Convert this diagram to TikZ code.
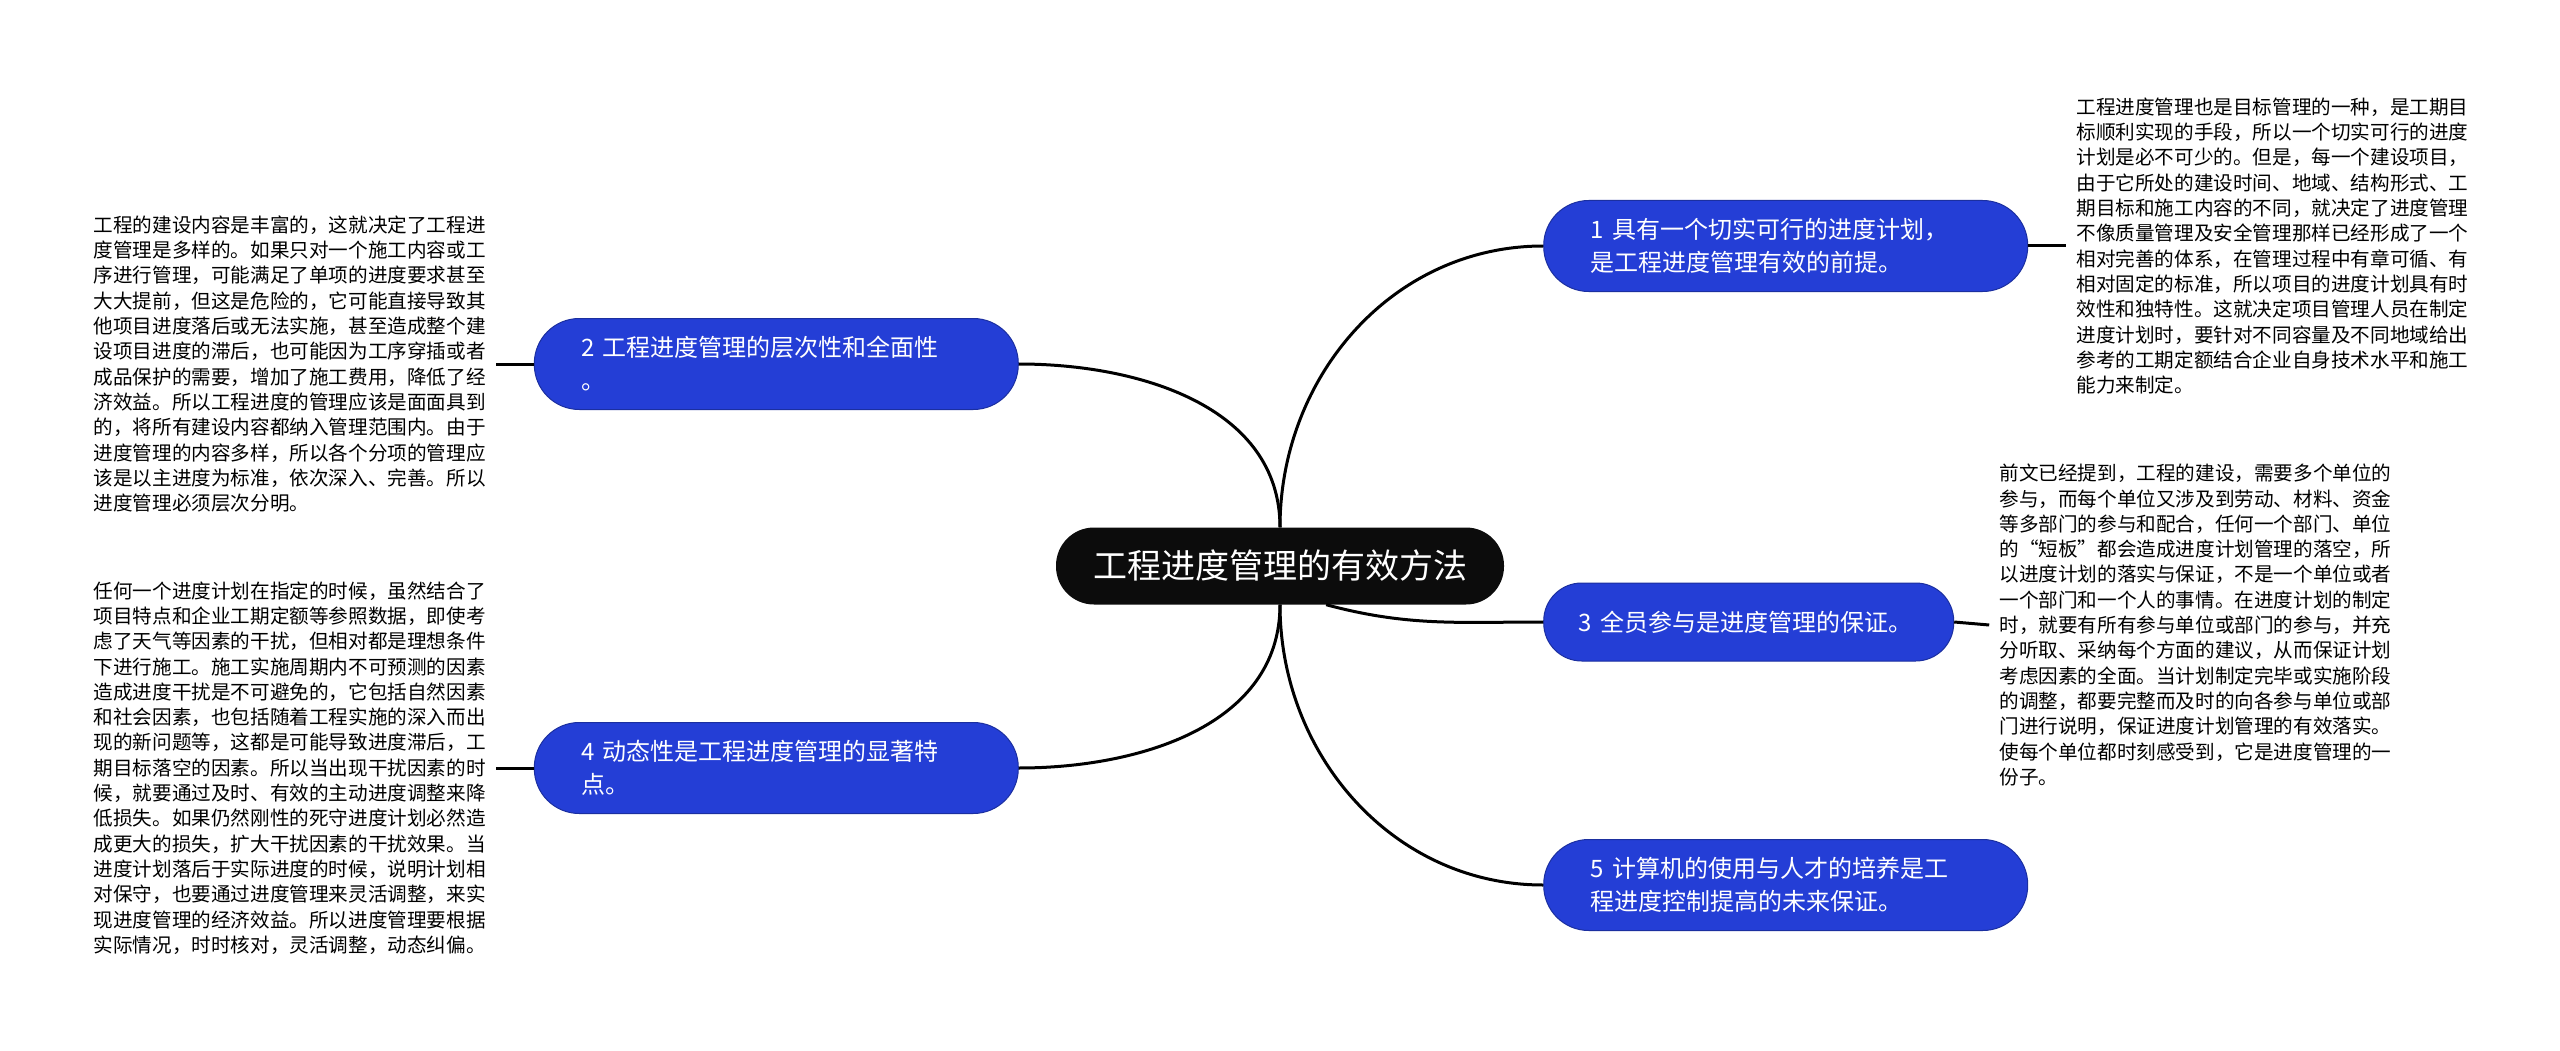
\documentclass[tikz,border=0pt]{standalone}
\usepackage{fontspec}
\setmainfont{Noto Sans CJK SC}
\usepackage{tikz}
\usetikzlibrary{positioning}

\definecolor{topicblue}{RGB}{36,62,214}
\definecolor{rootblack}{RGB}{12,12,12}

\begin{document}
\begin{tikzpicture}[x=1pt, y=-1pt, node distance=38pt,
  root/.style={rectangle, rounded corners=38pt, fill=rootblack, text=white,
    minimum width=448pt, minimum height=77pt, font=\fontsize{34pt}{40pt}\selectfont},
  topic/.style={rectangle, rounded corners=45pt, fill=topicblue, draw=topicblue!75!black,
    line width=1pt, text=white, align=left, text width=390pt, inner xsep=47pt,
    minimum height=91pt, font=\fontsize{24pt}{33pt}\selectfont},
  leaf/.style={align=left, inner sep=10pt, font=\fontsize{19.6pt}{25.3pt}\selectfont}]
\path[use as bounding box, fill=white] (0,0) rectangle (2560,1051);

\node[root] (r) at (1280,566) {工程进度管理的有效方法};

\node[topic] (t_1) [right=39pt of r.east, yshift=320pt] {1 具有一个切实可行的进度计划，\\是工程进度管理有效的前提。};
\node[topic] (t_2) [left=37pt of r.west, yshift=202pt] {2 工程进度管理的层次性和全面性\\。};
\node[topic, text width=340pt, inner xsep=35pt, minimum height=78pt, rounded corners=38pt] (t_3) [right=39pt of r.east, yshift=-56pt] {3 全员参与是进度管理的保证。};
\node[topic] (t_4) [left=37pt of r.west, yshift=-202pt] {4 动态性是工程进度管理的显著特\\点。};
\node[topic] (t_5) [right=39pt of r.east, yshift=-319pt] {5 计算机的使用与人才的培养是工\\程进度控制提高的未来保证。};

\node[leaf] (d_1) [right=of t_1] {工程进度管理也是目标管理的一种，是工期目\\标顺利实现的手段，所以一个切实可行的进度\\计划是必不可少的。但是，每一个建设项目，\\由于它所处的建设时间、地域、结构形式、工\\期目标和施工内容的不同，就决定了进度管理\\不像质量管理及安全管理那样已经形成了一个\\相对完善的体系，在管理过程中有章可循、有\\相对固定的标准，所以项目的进度计划具有时\\效性和独特性。这就决定项目管理人员在制定\\进度计划时，要针对不同容量及不同地域给出\\参考的工期定额结合企业自身技术水平和施工\\能力来制定。};
\node[leaf] (d_2) [left=of t_2] {工程的建设内容是丰富的，这就决定了工程进\\度管理是多样的。如果只对一个施工内容或工\\序进行管理，可能满足了单项的进度要求甚至\\大大提前，但这是危险的，它可能直接导致其\\他项目进度落后或无法实施，甚至造成整个建\\设项目进度的滞后，也可能因为工序穿插或者\\成品保护的需要，增加了施工费用，降低了经\\济效益。所以工程进度的管理应该是面面具到\\的，将所有建设内容都纳入管理范围内。由于\\进度管理的内容多样，所以各个分项的管理应\\该是以主进度为标准，依次深入、完善。所以\\进度管理必须层次分明。};
\node[leaf] (d_3) [right=35pt of t_3, yshift=-3pt] {前文已经提到，工程的建设，需要多个单位的\\参与，而每个单位又涉及到劳动、材料、资金\\等多部门的参与和配合，任何一个部门、单位\\的“短板”都会造成进度计划管理的落空，所\\以进度计划的落实与保证，不是一个单位或者\\一个部门和一个人的事情。在进度计划的制定\\时，就要有所有参与单位或部门的参与，并充\\分听取、采纳每个方面的建议，从而保证计划\\考虑因素的全面。当计划制定完毕或实施阶段\\的调整，都要完整而及时的向各参与单位或部\\门进行说明，保证进度计划管理的有效落实。\\使每个单位都时刻感受到，它是进度管理的一\\份子。};
\node[leaf] (d_4) [left=of t_4] {任何一个进度计划在指定的时候，虽然结合了\\项目特点和企业工期定额等参照数据，即使考\\虑了天气等因素的干扰，但相对都是理想条件\\下进行施工。施工实施周期内不可预测的因素\\造成进度干扰是不可避免的，它包括自然因素\\和社会因素，也包括随着工程实施的深入而出\\现的新问题等，这都是可能导致进度滞后，工\\期目标落空的因素。所以当出现干扰因素的时\\候，就要通过及时、有效的主动进度调整来降\\低损失。如果仍然刚性的死守进度计划必然造\\成更大的损失，扩大干扰因素的干扰效果。当\\进度计划落后于实际进度的时候，说明计划相\\对保守，也要通过进度管理来灵活调整，来实\\现进度管理的经济效益。所以进度管理要根据\\实际情况，时时核对，灵活调整，动态纠偏。};

	\tikzset{branch/.style={draw, line width=3pt}}

\path[branch]
	(r.north) edge [out=90, in=180] (t_1.west)
	(r.north) edge [out=90, in=0] (t_2.east)
	(r.-40) edge [out=-15, in=180] (t_3.west)
	(r.south) edge [out=-90, in=0] (t_4.east)
	(r.south) edge [out=-90, in=180] (t_5.west);

\path[branch]
	(t_1.east) edge (d_1.west)
	(t_2.west) edge (d_2.east)
	(t_3.east) edge (d_3.west)
	(t_4.west) edge (d_4.east);

\end{tikzpicture}
\end{document}
